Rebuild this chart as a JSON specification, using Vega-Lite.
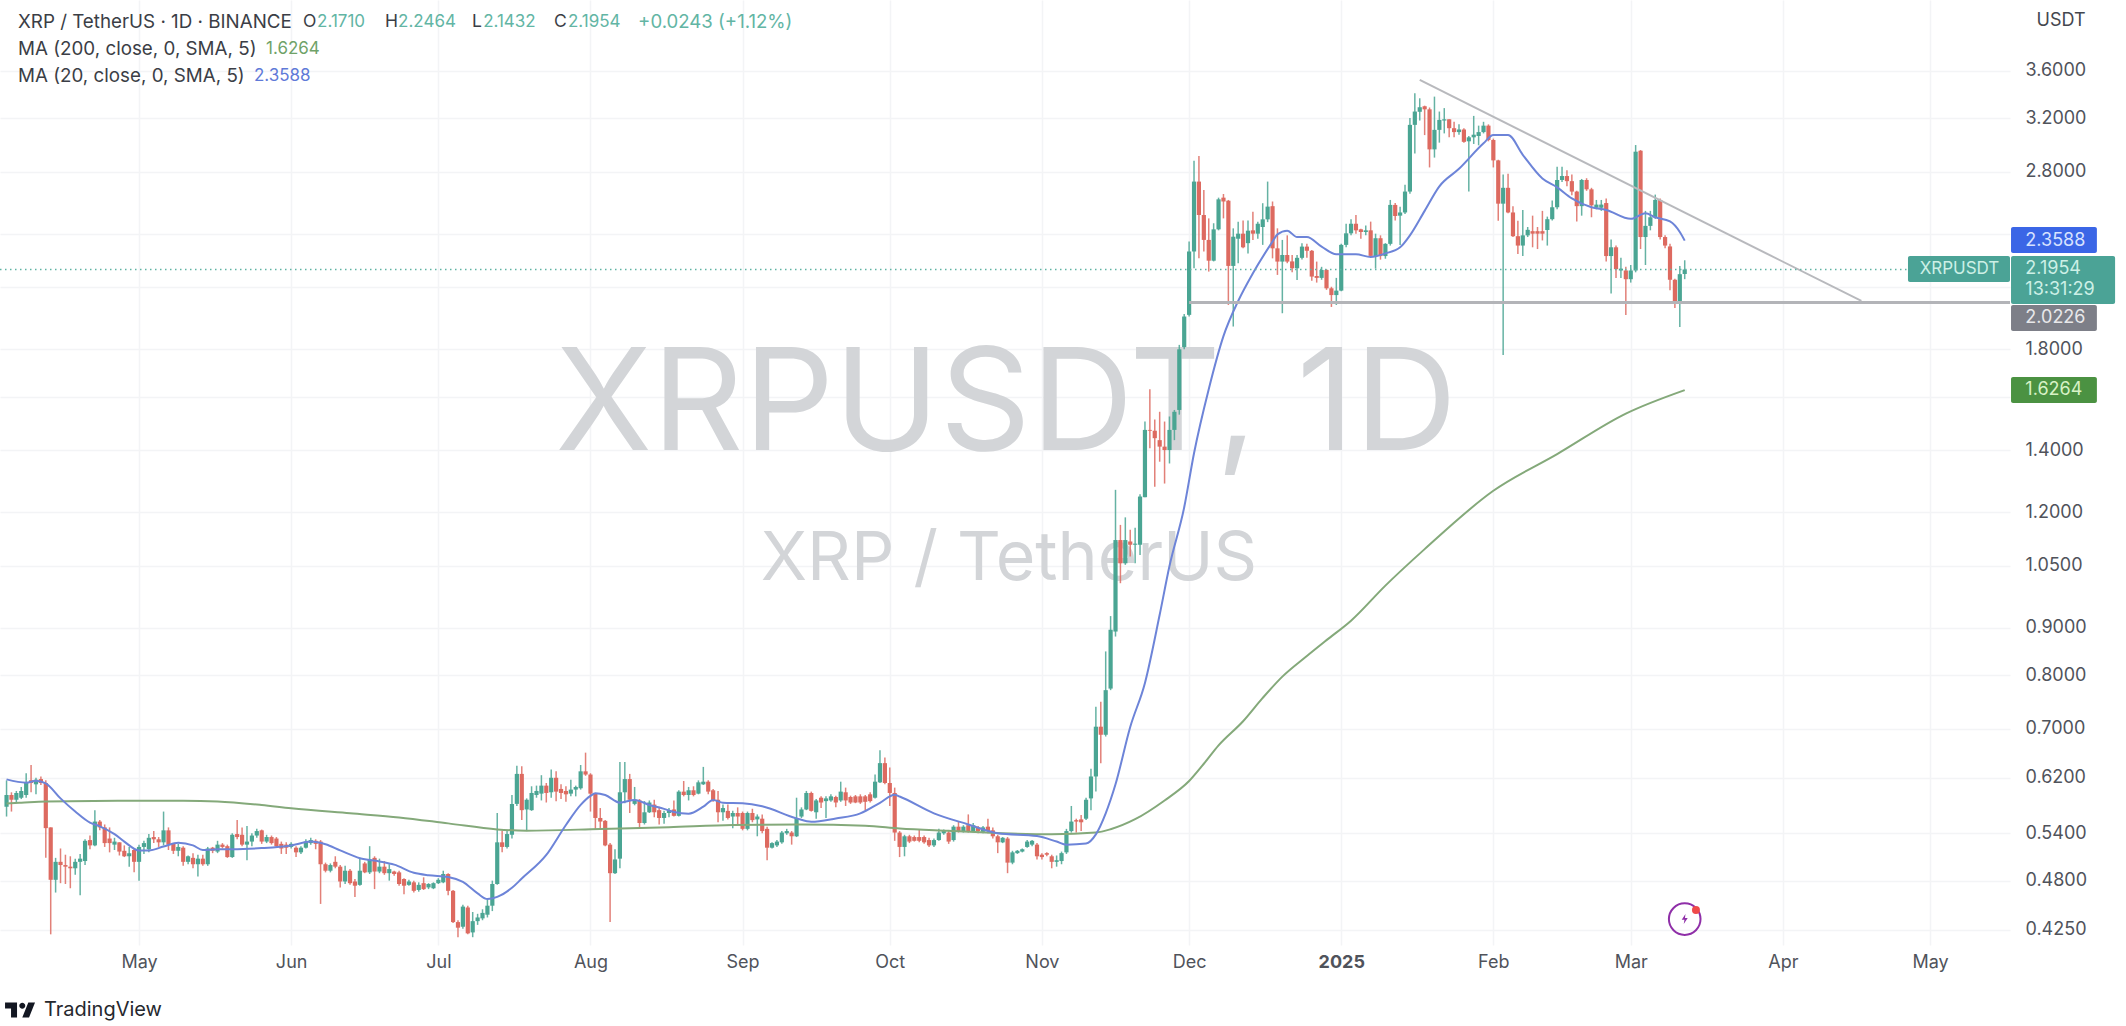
{"$schema":"https://vega.github.io/schema/vega-lite/v6.json","width":2010,"height":945,"autosize":{"type":"none"},"padding":{"left":0,"top":0,"right":116,"bottom":81},"background":"#ffffff","config":{"view":{"stroke":null},"text":{"font":"Inter"}},
"datasets":{"candles":[
{"d":"2024-04-04","o":0.577,"h":0.616,"l":0.563,"c":0.594},{"d":"2024-04-05","o":0.594,"h":0.598,"l":0.570,"c":0.587},{"d":"2024-04-06","o":0.587,"h":0.600,"l":0.583,"c":0.597},{"d":"2024-04-07","o":0.590,"h":0.606,"l":0.588,"c":0.600},{"d":"2024-04-08","o":0.594,"h":0.627,"l":0.590,"c":0.613},{"d":"2024-04-09","o":0.616,"h":0.640,"l":0.598,"c":0.612},{"d":"2024-04-10","o":0.610,"h":0.620,"l":0.595,"c":0.617},{"d":"2024-04-11","o":0.618,"h":0.622,"l":0.609,"c":0.612},{"d":"2024-04-12","o":0.612,"h":0.616,"l":0.508,"c":0.547},{"d":"2024-04-13","o":0.548,"h":0.548,"l":0.420,"c":0.481},{"d":"2024-04-14","o":0.481,"h":0.508,"l":0.466,"c":0.503},{"d":"2024-04-15","o":0.503,"h":0.520,"l":0.477,"c":0.499},{"d":"2024-04-16","o":0.499,"h":0.512,"l":0.476,"c":0.497},{"d":"2024-04-17","o":0.497,"h":0.510,"l":0.471,"c":0.495},{"d":"2024-04-18","o":0.495,"h":0.507,"l":0.487,"c":0.503},{"d":"2024-04-19","o":0.503,"h":0.513,"l":0.463,"c":0.507},{"d":"2024-04-20","o":0.504,"h":0.532,"l":0.499,"c":0.530},{"d":"2024-04-21","o":0.531,"h":0.537,"l":0.519,"c":0.524},{"d":"2024-04-22","o":0.524,"h":0.572,"l":0.523,"c":0.556},{"d":"2024-04-23","o":0.556,"h":0.558,"l":0.544,"c":0.548},{"d":"2024-04-24","o":0.548,"h":0.552,"l":0.522,"c":0.527},{"d":"2024-04-25","o":0.533,"h":0.548,"l":0.515,"c":0.527},{"d":"2024-04-26","o":0.525,"h":0.534,"l":0.518,"c":0.529},{"d":"2024-04-27","o":0.528,"h":0.528,"l":0.511,"c":0.516},{"d":"2024-04-28","o":0.517,"h":0.524,"l":0.509,"c":0.510},{"d":"2024-04-29","o":0.510,"h":0.522,"l":0.497,"c":0.514},{"d":"2024-04-30","o":0.518,"h":0.520,"l":0.490,"c":0.503},
{"d":"2024-05-01","o":0.503,"h":0.525,"l":0.480,"c":0.522},{"d":"2024-05-02","o":0.522,"h":0.530,"l":0.513,"c":0.527},{"d":"2024-05-03","o":0.519,"h":0.539,"l":0.515,"c":0.534},{"d":"2024-05-04","o":0.535,"h":0.543,"l":0.527,"c":0.532},{"d":"2024-05-05","o":0.532,"h":0.535,"l":0.522,"c":0.528},{"d":"2024-05-06","o":0.528,"h":0.570,"l":0.524,"c":0.544},{"d":"2024-05-07","o":0.544,"h":0.548,"l":0.518,"c":0.525},{"d":"2024-05-08","o":0.526,"h":0.527,"l":0.513,"c":0.517},{"d":"2024-05-09","o":0.517,"h":0.526,"l":0.510,"c":0.522},{"d":"2024-05-10","o":0.521,"h":0.523,"l":0.498,"c":0.503},{"d":"2024-05-11","o":0.503,"h":0.511,"l":0.500,"c":0.510},{"d":"2024-05-12","o":0.508,"h":0.514,"l":0.495,"c":0.500},{"d":"2024-05-13","o":0.500,"h":0.512,"l":0.485,"c":0.507},{"d":"2024-05-14","o":0.507,"h":0.512,"l":0.498,"c":0.500},{"d":"2024-05-15","o":0.500,"h":0.522,"l":0.498,"c":0.520},{"d":"2024-05-16","o":0.521,"h":0.522,"l":0.514,"c":0.517},{"d":"2024-05-17","o":0.516,"h":0.530,"l":0.514,"c":0.525},{"d":"2024-05-18","o":0.525,"h":0.527,"l":0.520,"c":0.522},{"d":"2024-05-19","o":0.523,"h":0.525,"l":0.508,"c":0.509},{"d":"2024-05-20","o":0.509,"h":0.540,"l":0.508,"c":0.538},{"d":"2024-05-21","o":0.539,"h":0.558,"l":0.532,"c":0.535},{"d":"2024-05-22","o":0.538,"h":0.548,"l":0.523,"c":0.525},{"d":"2024-05-23","o":0.525,"h":0.550,"l":0.505,"c":0.529},{"d":"2024-05-24","o":0.529,"h":0.540,"l":0.523,"c":0.537},{"d":"2024-05-25","o":0.537,"h":0.546,"l":0.534,"c":0.543},{"d":"2024-05-26","o":0.544,"h":0.545,"l":0.526,"c":0.529},{"d":"2024-05-27","o":0.529,"h":0.538,"l":0.527,"c":0.535},{"d":"2024-05-28","o":0.535,"h":0.537,"l":0.525,"c":0.527},{"d":"2024-05-29","o":0.533,"h":0.535,"l":0.521,"c":0.523},{"d":"2024-05-30","o":0.526,"h":0.529,"l":0.513,"c":0.520},{"d":"2024-05-31","o":0.525,"h":0.528,"l":0.513,"c":0.521},
{"d":"2024-06-01","o":0.522,"h":0.528,"l":0.520,"c":0.526},{"d":"2024-06-02","o":0.521,"h":0.523,"l":0.509,"c":0.515},{"d":"2024-06-03","o":0.515,"h":0.523,"l":0.513,"c":0.521},{"d":"2024-06-04","o":0.521,"h":0.532,"l":0.520,"c":0.529},{"d":"2024-06-05","o":0.527,"h":0.534,"l":0.525,"c":0.531},{"d":"2024-06-06","o":0.530,"h":0.532,"l":0.519,"c":0.526},{"d":"2024-06-07","o":0.529,"h":0.531,"l":0.453,"c":0.500},{"d":"2024-06-08","o":0.500,"h":0.502,"l":0.490,"c":0.492},{"d":"2024-06-09","o":0.492,"h":0.501,"l":0.490,"c":0.499},{"d":"2024-06-10","o":0.503,"h":0.510,"l":0.495,"c":0.497},{"d":"2024-06-11","o":0.497,"h":0.499,"l":0.472,"c":0.479},{"d":"2024-06-12","o":0.479,"h":0.498,"l":0.476,"c":0.492},{"d":"2024-06-13","o":0.492,"h":0.494,"l":0.475,"c":0.477},{"d":"2024-06-14","o":0.479,"h":0.482,"l":0.461,"c":0.474},{"d":"2024-06-15","o":0.475,"h":0.508,"l":0.474,"c":0.492},{"d":"2024-06-16","o":0.501,"h":0.503,"l":0.489,"c":0.490},{"d":"2024-06-17","o":0.490,"h":0.523,"l":0.488,"c":0.506},{"d":"2024-06-18","o":0.508,"h":0.510,"l":0.470,"c":0.491},{"d":"2024-06-19","o":0.491,"h":0.507,"l":0.489,"c":0.497},{"d":"2024-06-20","o":0.497,"h":0.504,"l":0.487,"c":0.489},{"d":"2024-06-21","o":0.489,"h":0.500,"l":0.480,"c":0.494},{"d":"2024-06-22","o":0.491,"h":0.492,"l":0.486,"c":0.488},{"d":"2024-06-23","o":0.490,"h":0.492,"l":0.474,"c":0.476},{"d":"2024-06-24","o":0.482,"h":0.483,"l":0.464,"c":0.474},{"d":"2024-06-25","o":0.475,"h":0.481,"l":0.474,"c":0.479},{"d":"2024-06-26","o":0.478,"h":0.480,"l":0.466,"c":0.468},{"d":"2024-06-27","o":0.469,"h":0.478,"l":0.467,"c":0.475},{"d":"2024-06-28","o":0.477,"h":0.484,"l":0.469,"c":0.470},{"d":"2024-06-29","o":0.472,"h":0.477,"l":0.470,"c":0.476},{"d":"2024-06-30","o":0.471,"h":0.478,"l":0.470,"c":0.477},
{"d":"2024-07-01","o":0.477,"h":0.483,"l":0.476,"c":0.481},{"d":"2024-07-02","o":0.478,"h":0.492,"l":0.477,"c":0.488},{"d":"2024-07-03","o":0.488,"h":0.489,"l":0.463,"c":0.468},{"d":"2024-07-04","o":0.468,"h":0.469,"l":0.432,"c":0.433},{"d":"2024-07-05","o":0.433,"h":0.435,"l":0.417,"c":0.427},{"d":"2024-07-06","o":0.428,"h":0.452,"l":0.426,"c":0.450},{"d":"2024-07-07","o":0.449,"h":0.451,"l":0.420,"c":0.421},{"d":"2024-07-08","o":0.422,"h":0.444,"l":0.417,"c":0.434},{"d":"2024-07-09","o":0.434,"h":0.442,"l":0.430,"c":0.438},{"d":"2024-07-10","o":0.437,"h":0.447,"l":0.435,"c":0.443},{"d":"2024-07-11","o":0.441,"h":0.458,"l":0.438,"c":0.451},{"d":"2024-07-12","o":0.451,"h":0.480,"l":0.445,"c":0.476},{"d":"2024-07-13","o":0.476,"h":0.568,"l":0.475,"c":0.528},{"d":"2024-07-14","o":0.528,"h":0.543,"l":0.515,"c":0.522},{"d":"2024-07-15","o":0.522,"h":0.543,"l":0.520,"c":0.539},{"d":"2024-07-16","o":0.538,"h":0.594,"l":0.533,"c":0.581},{"d":"2024-07-17","o":0.581,"h":0.639,"l":0.578,"c":0.626},{"d":"2024-07-18","o":0.626,"h":0.638,"l":0.558,"c":0.572},{"d":"2024-07-19","o":0.573,"h":0.589,"l":0.543,"c":0.587},{"d":"2024-07-20","o":0.572,"h":0.607,"l":0.571,"c":0.597},{"d":"2024-07-21","o":0.594,"h":0.608,"l":0.590,"c":0.600},{"d":"2024-07-22","o":0.596,"h":0.624,"l":0.586,"c":0.608},{"d":"2024-07-23","o":0.608,"h":0.612,"l":0.583,"c":0.597},{"d":"2024-07-24","o":0.598,"h":0.633,"l":0.590,"c":0.620},{"d":"2024-07-25","o":0.620,"h":0.630,"l":0.585,"c":0.599},{"d":"2024-07-26","o":0.603,"h":0.610,"l":0.588,"c":0.597},{"d":"2024-07-27","o":0.600,"h":0.607,"l":0.584,"c":0.595},{"d":"2024-07-28","o":0.596,"h":0.617,"l":0.592,"c":0.602},{"d":"2024-07-29","o":0.602,"h":0.608,"l":0.592,"c":0.606},{"d":"2024-07-30","o":0.604,"h":0.640,"l":0.602,"c":0.630},{"d":"2024-07-31","o":0.630,"h":0.660,"l":0.623,"c":0.625},
{"d":"2024-08-01","o":0.625,"h":0.627,"l":0.570,"c":0.596},{"d":"2024-08-02","o":0.596,"h":0.597,"l":0.545,"c":0.561},{"d":"2024-08-03","o":0.561,"h":0.575,"l":0.547,"c":0.556},{"d":"2024-08-04","o":0.557,"h":0.558,"l":0.523,"c":0.524},{"d":"2024-08-05","o":0.525,"h":0.527,"l":0.433,"c":0.489},{"d":"2024-08-06","o":0.489,"h":0.519,"l":0.488,"c":0.506},{"d":"2024-08-07","o":0.507,"h":0.645,"l":0.495,"c":0.598},{"d":"2024-08-08","o":0.598,"h":0.645,"l":0.582,"c":0.618},{"d":"2024-08-09","o":0.618,"h":0.626,"l":0.568,"c":0.587},{"d":"2024-08-10","o":0.581,"h":0.606,"l":0.579,"c":0.587},{"d":"2024-08-11","o":0.586,"h":0.588,"l":0.547,"c":0.554},{"d":"2024-08-12","o":0.554,"h":0.585,"l":0.552,"c":0.569},{"d":"2024-08-13","o":0.569,"h":0.586,"l":0.568,"c":0.583},{"d":"2024-08-14","o":0.580,"h":0.587,"l":0.562,"c":0.569},{"d":"2024-08-15","o":0.572,"h":0.577,"l":0.552,"c":0.561},{"d":"2024-08-16","o":0.561,"h":0.571,"l":0.553,"c":0.568},{"d":"2024-08-17","o":0.568,"h":0.575,"l":0.562,"c":0.572},{"d":"2024-08-18","o":0.573,"h":0.586,"l":0.563,"c":0.564},{"d":"2024-08-19","o":0.564,"h":0.601,"l":0.563,"c":0.599},{"d":"2024-08-20","o":0.599,"h":0.615,"l":0.592,"c":0.594},{"d":"2024-08-21","o":0.594,"h":0.606,"l":0.586,"c":0.601},{"d":"2024-08-22","o":0.601,"h":0.607,"l":0.592,"c":0.594},{"d":"2024-08-23","o":0.596,"h":0.616,"l":0.595,"c":0.613},{"d":"2024-08-24","o":0.610,"h":0.637,"l":0.609,"c":0.614},{"d":"2024-08-25","o":0.614,"h":0.616,"l":0.595,"c":0.599},{"d":"2024-08-26","o":0.601,"h":0.603,"l":0.584,"c":0.586},{"d":"2024-08-27","o":0.587,"h":0.600,"l":0.555,"c":0.569},{"d":"2024-08-28","o":0.569,"h":0.580,"l":0.557,"c":0.575},{"d":"2024-08-29","o":0.571,"h":0.580,"l":0.559,"c":0.561},{"d":"2024-08-30","o":0.563,"h":0.571,"l":0.547,"c":0.568},{"d":"2024-08-31","o":0.568,"h":0.576,"l":0.552,"c":0.563},
{"d":"2024-09-01","o":0.568,"h":0.570,"l":0.544,"c":0.546},{"d":"2024-09-02","o":0.546,"h":0.570,"l":0.544,"c":0.568},{"d":"2024-09-03","o":0.568,"h":0.574,"l":0.555,"c":0.558},{"d":"2024-09-04","o":0.559,"h":0.566,"l":0.536,"c":0.563},{"d":"2024-09-05","o":0.560,"h":0.566,"l":0.540,"c":0.543},{"d":"2024-09-06","o":0.546,"h":0.549,"l":0.505,"c":0.521},{"d":"2024-09-07","o":0.521,"h":0.528,"l":0.520,"c":0.527},{"d":"2024-09-08","o":0.524,"h":0.531,"l":0.522,"c":0.529},{"d":"2024-09-09","o":0.528,"h":0.543,"l":0.526,"c":0.541},{"d":"2024-09-10","o":0.540,"h":0.546,"l":0.538,"c":0.543},{"d":"2024-09-11","o":0.541,"h":0.543,"l":0.525,"c":0.536},{"d":"2024-09-12","o":0.536,"h":0.590,"l":0.535,"c":0.561},{"d":"2024-09-13","o":0.563,"h":0.576,"l":0.561,"c":0.573},{"d":"2024-09-14","o":0.573,"h":0.600,"l":0.572,"c":0.597},{"d":"2024-09-15","o":0.597,"h":0.599,"l":0.570,"c":0.571},{"d":"2024-09-16","o":0.569,"h":0.588,"l":0.560,"c":0.586},{"d":"2024-09-17","o":0.590,"h":0.592,"l":0.575,"c":0.583},{"d":"2024-09-18","o":0.585,"h":0.592,"l":0.561,"c":0.589},{"d":"2024-09-19","o":0.586,"h":0.595,"l":0.584,"c":0.592},{"d":"2024-09-20","o":0.591,"h":0.593,"l":0.576,"c":0.583},{"d":"2024-09-21","o":0.586,"h":0.614,"l":0.584,"c":0.599},{"d":"2024-09-22","o":0.598,"h":0.605,"l":0.578,"c":0.586},{"d":"2024-09-23","o":0.591,"h":0.593,"l":0.581,"c":0.583},{"d":"2024-09-24","o":0.592,"h":0.594,"l":0.582,"c":0.583},{"d":"2024-09-25","o":0.592,"h":0.595,"l":0.581,"c":0.583},{"d":"2024-09-26","o":0.592,"h":0.594,"l":0.572,"c":0.584},{"d":"2024-09-27","o":0.595,"h":0.598,"l":0.583,"c":0.585},{"d":"2024-09-28","o":0.590,"h":0.625,"l":0.589,"c":0.614},{"d":"2024-09-29","o":0.613,"h":0.664,"l":0.612,"c":0.643},{"d":"2024-09-30","o":0.643,"h":0.652,"l":0.610,"c":0.612},
{"d":"2024-10-01","o":0.612,"h":0.636,"l":0.578,"c":0.597},{"d":"2024-10-02","o":0.597,"h":0.605,"l":0.530,"c":0.541},{"d":"2024-10-03","o":0.541,"h":0.543,"l":0.509,"c":0.522},{"d":"2024-10-04","o":0.522,"h":0.538,"l":0.510,"c":0.536},{"d":"2024-10-05","o":0.536,"h":0.538,"l":0.527,"c":0.529},{"d":"2024-10-06","o":0.535,"h":0.537,"l":0.529,"c":0.530},{"d":"2024-10-07","o":0.535,"h":0.545,"l":0.528,"c":0.530},{"d":"2024-10-08","o":0.535,"h":0.537,"l":0.526,"c":0.528},{"d":"2024-10-09","o":0.531,"h":0.534,"l":0.522,"c":0.524},{"d":"2024-10-10","o":0.524,"h":0.533,"l":0.522,"c":0.531},{"d":"2024-10-11","o":0.531,"h":0.546,"l":0.530,"c":0.541},{"d":"2024-10-12","o":0.540,"h":0.545,"l":0.538,"c":0.543},{"d":"2024-10-13","o":0.541,"h":0.543,"l":0.526,"c":0.529},{"d":"2024-10-14","o":0.531,"h":0.551,"l":0.529,"c":0.549},{"d":"2024-10-15","o":0.549,"h":0.556,"l":0.541,"c":0.543},{"d":"2024-10-16","o":0.543,"h":0.551,"l":0.541,"c":0.549},{"d":"2024-10-17","o":0.551,"h":0.566,"l":0.541,"c":0.543},{"d":"2024-10-18","o":0.543,"h":0.554,"l":0.541,"c":0.551},{"d":"2024-10-19","o":0.548,"h":0.550,"l":0.540,"c":0.543},{"d":"2024-10-20","o":0.542,"h":0.550,"l":0.540,"c":0.548},{"d":"2024-10-21","o":0.549,"h":0.560,"l":0.540,"c":0.543},{"d":"2024-10-22","o":0.544,"h":0.548,"l":0.533,"c":0.536},{"d":"2024-10-23","o":0.536,"h":0.538,"l":0.514,"c":0.528},{"d":"2024-10-24","o":0.528,"h":0.535,"l":0.527,"c":0.534},{"d":"2024-10-25","o":0.533,"h":0.535,"l":0.489,"c":0.502},{"d":"2024-10-26","o":0.502,"h":0.517,"l":0.500,"c":0.515},{"d":"2024-10-27","o":0.514,"h":0.518,"l":0.513,"c":0.517},{"d":"2024-10-28","o":0.516,"h":0.520,"l":0.515,"c":0.519},{"d":"2024-10-29","o":0.522,"h":0.531,"l":0.521,"c":0.529},{"d":"2024-10-30","o":0.525,"h":0.531,"l":0.523,"c":0.530},{"d":"2024-10-31","o":0.525,"h":0.527,"l":0.506,"c":0.510},
{"d":"2024-11-01","o":0.512,"h":0.514,"l":0.506,"c":0.509},{"d":"2024-11-02","o":0.514,"h":0.515,"l":0.510,"c":0.512},{"d":"2024-11-03","o":0.510,"h":0.512,"l":0.495,"c":0.503},{"d":"2024-11-04","o":0.503,"h":0.511,"l":0.497,"c":0.505},{"d":"2024-11-05","o":0.504,"h":0.516,"l":0.500,"c":0.514},{"d":"2024-11-06","o":0.515,"h":0.546,"l":0.513,"c":0.543},{"d":"2024-11-07","o":0.543,"h":0.578,"l":0.541,"c":0.556},{"d":"2024-11-08","o":0.558,"h":0.560,"l":0.541,"c":0.556},{"d":"2024-11-09","o":0.559,"h":0.565,"l":0.543,"c":0.555},{"d":"2024-11-10","o":0.560,"h":0.590,"l":0.558,"c":0.587},{"d":"2024-11-11","o":0.589,"h":0.634,"l":0.572,"c":0.622},{"d":"2024-11-12","o":0.622,"h":0.740,"l":0.599,"c":0.704},{"d":"2024-11-13","o":0.704,"h":0.749,"l":0.643,"c":0.690},{"d":"2024-11-14","o":0.690,"h":0.849,"l":0.687,"c":0.771},{"d":"2024-11-15","o":0.774,"h":0.927,"l":0.771,"c":0.896},{"d":"2024-11-16","o":0.892,"h":1.269,"l":0.881,"c":1.120},{"d":"2024-11-17","o":1.120,"h":1.163,"l":1.006,"c":1.057},{"d":"2024-11-18","o":1.057,"h":1.185,"l":1.053,"c":1.120},{"d":"2024-11-19","o":1.116,"h":1.149,"l":1.075,"c":1.107},{"d":"2024-11-20","o":1.107,"h":1.155,"l":1.057,"c":1.110},{"d":"2024-11-21","o":1.107,"h":1.255,"l":1.079,"c":1.248},{"d":"2024-11-22","o":1.246,"h":1.504,"l":1.246,"c":1.473},{"d":"2024-11-23","o":1.473,"h":1.630,"l":1.407,"c":1.470},{"d":"2024-11-24","o":1.470,"h":1.512,"l":1.279,"c":1.443},{"d":"2024-11-25","o":1.436,"h":1.541,"l":1.361,"c":1.413},{"d":"2024-11-26","o":1.413,"h":1.504,"l":1.289,"c":1.401},{"d":"2024-11-27","o":1.401,"h":1.523,"l":1.355,"c":1.473},{"d":"2024-11-28","o":1.473,"h":1.548,"l":1.436,"c":1.541},{"d":"2024-11-29","o":1.548,"h":1.820,"l":1.530,"c":1.800},{"d":"2024-11-30","o":1.810,"h":1.965,"l":1.800,"c":1.953},
{"d":"2024-12-01","o":1.961,"h":2.353,"l":1.953,"c":2.296},{"d":"2024-12-02","o":2.296,"h":2.878,"l":2.202,"c":2.732},{"d":"2024-12-03","o":2.732,"h":2.912,"l":2.257,"c":2.514},{"d":"2024-12-04","o":2.514,"h":2.675,"l":2.296,"c":2.363},{"d":"2024-12-05","o":2.363,"h":2.493,"l":2.184,"c":2.244},{"d":"2024-12-06","o":2.244,"h":2.463,"l":2.240,"c":2.426},{"d":"2024-12-07","o":2.426,"h":2.625,"l":2.420,"c":2.614},{"d":"2024-12-08","o":2.625,"h":2.649,"l":2.493,"c":2.600},{"d":"2024-12-09","o":2.605,"h":2.610,"l":2.010,"c":2.215},{"d":"2024-12-10","o":2.215,"h":2.432,"l":1.905,"c":2.382},{"d":"2024-12-11","o":2.370,"h":2.473,"l":2.230,"c":2.400},{"d":"2024-12-12","o":2.400,"h":2.480,"l":2.314,"c":2.320},{"d":"2024-12-13","o":2.344,"h":2.480,"l":2.285,"c":2.418},{"d":"2024-12-14","o":2.420,"h":2.535,"l":2.363,"c":2.400},{"d":"2024-12-15","o":2.400,"h":2.473,"l":2.370,"c":2.460},{"d":"2024-12-16","o":2.440,"h":2.589,"l":2.334,"c":2.487},{"d":"2024-12-17","o":2.487,"h":2.732,"l":2.470,"c":2.567},{"d":"2024-12-18","o":2.570,"h":2.600,"l":2.257,"c":2.314},{"d":"2024-12-19","o":2.314,"h":2.432,"l":2.166,"c":2.239},{"d":"2024-12-20","o":2.239,"h":2.363,"l":1.969,"c":2.276},{"d":"2024-12-21","o":2.276,"h":2.390,"l":2.230,"c":2.239},{"d":"2024-12-22","o":2.240,"h":2.276,"l":2.180,"c":2.202},{"d":"2024-12-23","o":2.202,"h":2.276,"l":2.139,"c":2.260},{"d":"2024-12-24","o":2.260,"h":2.344,"l":2.250,"c":2.324},{"d":"2024-12-25","o":2.324,"h":2.340,"l":2.260,"c":2.300},{"d":"2024-12-26","o":2.300,"h":2.305,"l":2.135,"c":2.157},{"d":"2024-12-27","o":2.160,"h":2.239,"l":2.125,"c":2.150},{"d":"2024-12-28","o":2.150,"h":2.210,"l":2.140,"c":2.193},{"d":"2024-12-29","o":2.193,"h":2.197,"l":2.087,"c":2.095},{"d":"2024-12-30","o":2.095,"h":2.103,"l":2.000,"c":2.060},{"d":"2024-12-31","o":2.060,"h":2.150,"l":2.010,"c":2.083},
{"d":"2025-01-01","o":2.083,"h":2.340,"l":2.080,"c":2.334},{"d":"2025-01-02","o":2.334,"h":2.460,"l":2.320,"c":2.402},{"d":"2025-01-03","o":2.402,"h":2.487,"l":2.390,"c":2.460},{"d":"2025-01-04","o":2.460,"h":2.514,"l":2.400,"c":2.420},{"d":"2025-01-05","o":2.426,"h":2.430,"l":2.370,"c":2.410},{"d":"2025-01-06","o":2.410,"h":2.450,"l":2.390,"c":2.420},{"d":"2025-01-07","o":2.420,"h":2.473,"l":2.265,"c":2.271},{"d":"2025-01-08","o":2.270,"h":2.400,"l":2.200,"c":2.373},{"d":"2025-01-09","o":2.373,"h":2.390,"l":2.250,"c":2.270},{"d":"2025-01-10","o":2.270,"h":2.344,"l":2.255,"c":2.340},{"d":"2025-01-11","o":2.340,"h":2.610,"l":2.330,"c":2.578},{"d":"2025-01-12","o":2.578,"h":2.590,"l":2.480,"c":2.508},{"d":"2025-01-13","o":2.510,"h":2.567,"l":2.334,"c":2.530},{"d":"2025-01-14","o":2.530,"h":2.710,"l":2.520,"c":2.665},{"d":"2025-01-15","o":2.665,"h":3.200,"l":2.650,"c":3.146},{"d":"2025-01-16","o":3.146,"h":3.403,"l":2.930,"c":3.252},{"d":"2025-01-17","o":3.250,"h":3.361,"l":3.180,"c":3.287},{"d":"2025-01-18","o":3.295,"h":3.300,"l":3.067,"c":3.270},{"d":"2025-01-19","o":3.270,"h":3.285,"l":2.830,"c":2.960},{"d":"2025-01-20","o":2.960,"h":3.375,"l":2.900,"c":3.107},{"d":"2025-01-21","o":3.107,"h":3.252,"l":3.010,"c":3.185},{"d":"2025-01-22","o":3.180,"h":3.280,"l":3.080,"c":3.190},{"d":"2025-01-23","o":3.190,"h":3.190,"l":3.050,"c":3.120},{"d":"2025-01-24","o":3.120,"h":3.170,"l":3.050,"c":3.090},{"d":"2025-01-25","o":3.090,"h":3.150,"l":3.070,"c":3.110},{"d":"2025-01-26","o":3.110,"h":3.120,"l":3.010,"c":3.016},{"d":"2025-01-27","o":3.020,"h":3.060,"l":2.665,"c":3.050},{"d":"2025-01-28","o":3.050,"h":3.217,"l":3.000,"c":3.070},{"d":"2025-01-29","o":3.060,"h":3.140,"l":2.990,"c":3.090},{"d":"2025-01-30","o":3.090,"h":3.170,"l":3.080,"c":3.140},{"d":"2025-01-31","o":3.140,"h":3.150,"l":3.020,"c":3.030},
{"d":"2025-02-01","o":3.030,"h":3.040,"l":2.830,"c":2.880},{"d":"2025-02-02","o":2.880,"h":2.885,"l":2.478,"c":2.586},{"d":"2025-02-03","o":2.586,"h":2.780,"l":1.775,"c":2.690},{"d":"2025-02-04","o":2.690,"h":2.785,"l":2.525,"c":2.530},{"d":"2025-02-05","o":2.530,"h":2.570,"l":2.380,"c":2.385},{"d":"2025-02-06","o":2.385,"h":2.478,"l":2.282,"c":2.330},{"d":"2025-02-07","o":2.330,"h":2.545,"l":2.270,"c":2.390},{"d":"2025-02-08","o":2.390,"h":2.440,"l":2.380,"c":2.423},{"d":"2025-02-09","o":2.415,"h":2.510,"l":2.320,"c":2.400},{"d":"2025-02-10","o":2.415,"h":2.440,"l":2.310,"c":2.400},{"d":"2025-02-11","o":2.415,"h":2.540,"l":2.360,"c":2.400},{"d":"2025-02-12","o":2.422,"h":2.504,"l":2.330,"c":2.488},{"d":"2025-02-13","o":2.488,"h":2.606,"l":2.480,"c":2.563},{"d":"2025-02-14","o":2.563,"h":2.835,"l":2.550,"c":2.743},{"d":"2025-02-15","o":2.743,"h":2.835,"l":2.730,"c":2.770},{"d":"2025-02-16","o":2.770,"h":2.810,"l":2.700,"c":2.735},{"d":"2025-02-17","o":2.735,"h":2.780,"l":2.640,"c":2.665},{"d":"2025-02-18","o":2.665,"h":2.670,"l":2.474,"c":2.570},{"d":"2025-02-19","o":2.570,"h":2.750,"l":2.510,"c":2.743},{"d":"2025-02-20","o":2.743,"h":2.755,"l":2.670,"c":2.680},{"d":"2025-02-21","o":2.680,"h":2.690,"l":2.500,"c":2.575},{"d":"2025-02-22","o":2.560,"h":2.610,"l":2.550,"c":2.580},{"d":"2025-02-23","o":2.560,"h":2.610,"l":2.540,"c":2.580},{"d":"2025-02-24","o":2.590,"h":2.620,"l":2.240,"c":2.270},{"d":"2025-02-25","o":2.270,"h":2.365,"l":2.068,"c":2.320},{"d":"2025-02-26","o":2.320,"h":2.330,"l":2.150,"c":2.197},{"d":"2025-02-27","o":2.190,"h":2.260,"l":2.150,"c":2.200},{"d":"2025-02-28","o":2.190,"h":2.210,"l":1.960,"c":2.143},
{"d":"2025-03-01","o":2.143,"h":2.220,"l":2.125,"c":2.190},{"d":"2025-03-02","o":2.190,"h":2.992,"l":2.180,"c":2.943},{"d":"2025-03-03","o":2.950,"h":2.955,"l":2.310,"c":2.380},{"d":"2025-03-04","o":2.380,"h":2.540,"l":2.220,"c":2.447},{"d":"2025-03-05","o":2.447,"h":2.540,"l":2.420,"c":2.500},{"d":"2025-03-06","o":2.500,"h":2.645,"l":2.490,"c":2.610},{"d":"2025-03-07","o":2.610,"h":2.620,"l":2.365,"c":2.380},{"d":"2025-03-08","o":2.380,"h":2.390,"l":2.315,"c":2.330},{"d":"2025-03-09","o":2.325,"h":2.340,"l":2.085,"c":2.140},{"d":"2025-03-10","o":2.140,"h":2.145,"l":1.995,"c":2.020},{"d":"2025-03-11","o":2.020,"h":2.215,"l":1.903,"c":2.170},{"d":"2025-03-12","o":2.171,"h":2.2464,"l":2.1432,"c":2.1954}
],
"ma20":[{"d":"2024-04-04","p":0.6175},{"d":"2024-04-08","p":0.6125},{"d":"2024-04-10","p":0.6155},{"d":"2024-04-12","p":0.6115},{"d":"2024-04-15","p":0.589},{"d":"2024-04-18","p":0.570},{"d":"2024-04-21","p":0.5545},{"d":"2024-04-23","p":0.5495},{"d":"2024-04-26","p":0.539},{"d":"2024-04-28","p":0.529},{"d":"2024-05-01","p":0.5175},{"d":"2024-05-03","p":0.5175},{"d":"2024-05-06","p":0.5225},{"d":"2024-05-09","p":0.5275},{"d":"2024-05-12","p":0.524},{"d":"2024-05-14","p":0.518},{"d":"2024-05-17","p":0.519},{"d":"2024-05-20","p":0.519},{"d":"2024-05-26","p":0.5205},{"d":"2024-06-01","p":0.524},{"d":"2024-06-05","p":0.529},{"d":"2024-06-08","p":0.5255},{"d":"2024-06-11","p":0.5175},{"d":"2024-06-15","p":0.5075},{"d":"2024-06-19","p":0.5035},{"d":"2024-06-22","p":0.4995},{"d":"2024-06-26","p":0.4895},{"d":"2024-06-29","p":0.4865},{"d":"2024-07-03","p":0.4845},{"d":"2024-07-06","p":0.4785},{"d":"2024-07-09","p":0.465},{"d":"2024-07-11","p":0.4585},{"d":"2024-07-13","p":0.461},{"d":"2024-07-16","p":0.4715},{"d":"2024-07-18","p":0.4825},{"d":"2024-07-23","p":0.5117},{"d":"2024-07-27","p":0.5513},{"d":"2024-07-30","p":0.5795},{"d":"2024-08-01","p":0.5926},{"d":"2024-08-02","p":0.5965},{"d":"2024-08-04","p":0.594},{"d":"2024-08-07","p":0.5828},{"d":"2024-08-10","p":0.5868},{"d":"2024-08-13","p":0.5795},{"d":"2024-08-16","p":0.5738},{"d":"2024-08-18","p":0.5695},{"d":"2024-08-21","p":0.567},{"d":"2024-08-24","p":0.577},{"d":"2024-08-26","p":0.5868},{"d":"2024-08-28","p":0.5826},{"d":"2024-09-01","p":0.5818},{"d":"2024-09-05","p":0.5775},{"d":"2024-09-12","p":0.5604},{"d":"2024-09-15","p":0.5557},{"d":"2024-09-20","p":0.5604},{"d":"2024-09-25","p":0.5675},{"d":"2024-09-29","p":0.5826},{"d":"2024-10-02","p":0.5944},{"d":"2024-10-03","p":0.5917},{"d":"2024-10-10","p":0.5675},{"d":"2024-10-17","p":0.552},{"d":"2024-10-23","p":0.54},{"d":"2024-10-31","p":0.5363},{"d":"2024-11-04","p":0.529},{"d":"2024-11-06","p":0.525},{"d":"2024-11-10","p":0.5265},{"d":"2024-11-12","p":0.5386},{"d":"2024-11-14","p":0.5675},{"d":"2024-11-16","p":0.61},{"d":"2024-11-19","p":0.7035},{"d":"2024-11-22","p":0.785},{"d":"2024-11-25","p":0.93},{"d":"2024-11-27","p":1.05},{"d":"2024-11-30","p":1.215},{"d":"2024-12-02","p":1.39},{"d":"2024-12-05","p":1.63},{"d":"2024-12-08","p":1.86},{"d":"2024-12-11","p":2.03},{"d":"2024-12-14","p":2.175},{"d":"2024-12-18","p":2.353},{"d":"2024-12-19","p":2.396},{"d":"2024-12-21","p":2.418},{"d":"2024-12-23","p":2.38},{"d":"2024-12-25","p":2.38},{"d":"2024-12-28","p":2.324},{"d":"2024-12-31","p":2.28},{"d":"2025-01-04","p":2.28},{"d":"2025-01-07","p":2.265},{"d":"2025-01-10","p":2.285},{"d":"2025-01-13","p":2.32},{"d":"2025-01-15","p":2.39},{"d":"2025-01-18","p":2.54},{"d":"2025-01-21","p":2.7},{"d":"2025-01-25","p":2.82},{"d":"2025-01-30","p":3.005},{"d":"2025-02-01","p":3.067},{"d":"2025-02-04","p":3.067},{"d":"2025-02-07","p":2.92},{"d":"2025-02-11","p":2.753},{"d":"2025-02-14","p":2.693},{"d":"2025-02-17","p":2.62},{"d":"2025-02-21","p":2.563},{"d":"2025-02-24","p":2.546},{"d":"2025-03-01","p":2.49},{"d":"2025-03-04","p":2.525},{"d":"2025-03-06","p":2.5},{"d":"2025-03-09","p":2.474},{"d":"2025-03-11","p":2.41},{"d":"2025-03-12","p":2.3588}],
"ma200":[{"d":"2024-04-04","p":0.5817},{"d":"2024-04-07","p":0.5828},{"d":"2024-04-12","p":0.5846},{"d":"2024-05-01","p":0.5856},{"d":"2024-05-10","p":0.5856},{"d":"2024-05-17","p":0.5846},{"d":"2024-05-26","p":0.5794},{"d":"2024-06-01","p":0.5746},{"d":"2024-06-13","p":0.5675},{"d":"2024-06-23","p":0.5618},{"d":"2024-07-03","p":0.5535},{"d":"2024-07-13","p":0.5453},{"d":"2024-07-19","p":0.5436},{"d":"2024-08-03","p":0.5458},{"d":"2024-08-17","p":0.5482},{"d":"2024-08-30","p":0.5513},{"d":"2024-09-13","p":0.5518},{"d":"2024-09-26","p":0.5503},{"d":"2024-10-03","p":0.5466},{"d":"2024-10-13","p":0.5433},{"d":"2024-10-24","p":0.54},{"d":"2024-11-03","p":0.5386},{"d":"2024-11-12","p":0.541},{"d":"2024-11-15","p":0.5455},{"d":"2024-11-20","p":0.5593},{"d":"2024-11-26","p":0.586},{"d":"2024-12-01","p":0.615},{"d":"2024-12-04","p":0.642},{"d":"2024-12-07","p":0.672},{"d":"2024-12-12","p":0.7136},{"d":"2024-12-16","p":0.7563},{"d":"2024-12-20","p":0.7974},{"d":"2024-12-25","p":0.8394},{"d":"2024-12-29","p":0.8731},{"d":"2025-01-03","p":0.9164},{"d":"2025-01-10","p":1.0},{"d":"2025-01-18","p":1.095},{"d":"2025-02-01","p":1.266},{"d":"2025-02-14","p":1.387},{"d":"2025-02-28","p":1.534},{"d":"2025-03-12","p":1.6264}],
"tags":[{"k":"blue","d":"2025-05-17T12:00:00Z","d2":"2025-06-04T00:00:00Z","p":2.44,"p2":2.288},{"k":"teal","d":"2025-05-17T12:00:00Z","d2":"2025-06-07T17:00:00Z","p":2.271,"p2":2.015},{"k":"teal","d":"2025-04-26T12:00:00Z","d2":"2025-05-17T07:00:00Z","p":2.271,"p2":2.128},{"k":"gray","d":"2025-05-17T12:00:00Z","d2":"2025-06-04T00:00:00Z","p":2.01,"p2":1.884},{"k":"green","d":"2025-05-17T12:00:00Z","d2":"2025-06-04T00:00:00Z","p":1.68,"p2":1.575}]
},
"encoding":{
"x":{"field":"d","type":"temporal","title":null,"scale":{"type":"utc","padding":0,"domain":["2024-04-02T16:00:00Z","2025-05-17T07:00:00Z"]},"axis":{"values":["2024-05-01T00:00:00Z","2024-06-01T00:00:00Z","2024-07-01T00:00:00Z","2024-08-01T00:00:00Z","2024-09-01T00:00:00Z","2024-10-01T00:00:00Z","2024-11-01T00:00:00Z","2024-12-01T00:00:00Z","2025-01-01T00:00:00Z","2025-02-01T00:00:00Z","2025-03-01T00:00:00Z","2025-04-01T00:00:00Z","2025-05-01T00:00:00Z"],"labelExpr":"utcmonth(datum.value)==0?'2025':utcFormat(datum.value,'%b')","labelFont":"Inter","labelFontSize":18,"labelColor":"#50535b","labelFontWeight":{"condition":{"test":"utcmonth(datum.value)==0","value":"bold"},"value":"normal"},"labelPadding":8,"labelOverlap":false,"labelFlush":false,"ticks":false,"domain":false,"grid":true,"gridColor":"#f3f4f6","gridWidth":1.5,"title":null}},
"y":{"field":"p","type":"quantitative","title":null,"scale":{"type":"log","domain":[0.409,4.292],"nice":false},"axis":{"orient":"right","values":[3.6,3.2,2.8,2.4,2.1,1.8,1.6,1.4,1.2,1.05,0.9,0.8,0.7,0.62,0.54,0.48,0.425],"labelExpr":"indexof([2.4,2.1,1.6],datum.value)>=0?'':format(datum.value,'.4f')","labelFont":"Inter","labelFontSize":18,"labelColor":"#50535b","labelPadding":15,"labelAlign":"left","labelOverlap":false,"labelFlush":false,"ticks":false,"domain":false,"grid":true,"gridColor":"#f3f4f6","gridWidth":1.5,"title":null}}
},
"layer":[
{"data":{"values":[{"t":"XRPUSDT, 1D","d":"2024-10-24T17:00:00Z","p":1.56}]},"mark":{"type":"text","fontSize":142,"font":"Inter","color":"#d3d5d8","align":"center","baseline":"middle"},"encoding":{"text":{"field":"t"}}},
{"data":{"values":[{"t":"XRP / TetherUS","d":"2024-10-25T07:00:00Z","p":1.066}]},"mark":{"type":"text","fontSize":68,"font":"Inter","color":"#d3d5d8","align":"center","baseline":"middle"},"encoding":{"text":{"field":"t"}}},
{"data":{"name":"candles"},"mark":{"type":"rule","strokeWidth":1.5,"opacity":0.85},"encoding":{"y":{"field":"l","type":"quantitative","title":null,"scale":{"type":"log","domain":[0.409,4.292],"nice":false}},"y2":{"field":"h"},"color":{"condition":{"test":"datum.c>=datum.o","value":"#4aa593"},"value":"#dd6a60"}}},
{"data":{"name":"candles"},"mark":{"type":"bar","size":4.2},"encoding":{"y":{"field":"o","type":"quantitative","title":null,"scale":{"type":"log","domain":[0.409,4.292],"nice":false}},"y2":{"field":"c"},"color":{"condition":{"test":"datum.c>=datum.o","value":"#4aa593"},"value":"#dd6a60"}}},
{"data":{"name":"ma200"},"mark":{"type":"line","color":"#84a97a","strokeWidth":2,"interpolate":"monotone"}},
{"data":{"name":"ma20"},"mark":{"type":"line","color":"#6d84d8","strokeWidth":2,"interpolate":"monotone"}},
{"data":{"values":[{"d":"2024-12-01","d2":"2025-05-17T07:00:00Z","p":2.0226}]},"mark":{"type":"rule","color":"#b3b4b8","strokeWidth":3},"encoding":{"x2":{"field":"d2"}}},
{"data":{"values":[{"d":"2025-01-17","p":3.518},{"d":"2025-04-17","p":2.03}]},"mark":{"type":"line","color":"#b8b9bd","strokeWidth":2}},
{"data":{"values":[{"d":"2024-04-02T16:00:00Z","d2":"2025-05-17T07:00:00Z","p":2.1954}]},"mark":{"type":"rule","color":"#5fb3a3","strokeWidth":1.3,"strokeDash":[1.5,3.5]},"encoding":{"x2":{"field":"d2"}}},
{"data":{"name":"tags"},"mark":{"type":"rect","cornerRadius":2},"encoding":{"x2":{"field":"d2"},"y2":{"field":"p2"},"color":{"field":"k","type":"nominal","legend":null,"scale":{"domain":["blue","teal","gray","green"],"range":["#3b66e6","#4ba396","#7d7f88","#4b9242"]}}}},
{"data":{"values":[{"t":"2.3588","d":"2025-05-20T10:00:00Z","p":2.3588}]},"mark":{"type":"text","fontSize":18,"align":"left","baseline":"middle","color":"#d7e2ff"},"encoding":{"text":{"field":"t"}}},
{"data":{"values":[{"t":"2.1954","d":"2025-05-20T10:00:00Z","p":2.1954},{"t":"13:31:29","d":"2025-05-20T10:00:00Z","p":2.086}]},"mark":{"type":"text","fontSize":18,"align":"left","baseline":"middle","color":"#cdf0e6"},"encoding":{"text":{"field":"t"}}},
{"data":{"values":[{"t":"XRPUSDT","d":"2025-05-07T00:00:00Z","p":2.1954}]},"mark":{"type":"text","fontSize":17,"align":"center","baseline":"middle","color":"#cdf0e6"},"encoding":{"text":{"field":"t"}}},
{"data":{"values":[{"t":"2.0226","d":"2025-05-20T10:00:00Z","p":1.948}]},"mark":{"type":"text","fontSize":18,"align":"left","baseline":"middle","color":"#e8e8ea"},"encoding":{"text":{"field":"t"}}},
{"data":{"values":[{"t":"1.6264","d":"2025-05-20T10:00:00Z","p":1.6264}]},"mark":{"type":"text","fontSize":18,"align":"left","baseline":"middle","color":"#d8f2c6"},"encoding":{"text":{"field":"t"}}},
{"data":{"values":[{"t":"USDT","d":"2025-05-27T17:00:00Z","p":4.07}]},"mark":{"type":"text","fontSize":18,"align":"center","baseline":"middle","color":"#44474f"},"encoding":{"text":{"field":"t"}}},
{"data":{"values":[{"t":"XRP / TetherUS · 1D · BINANCE","d":"2024-04-06T08:00:00Z","p":4.067},{"t":"MA (200, close, 0, SMA, 5)","d":"2024-04-06T08:00:00Z","p":3.8},{"t":"MA (20, close, 0, SMA, 5)","d":"2024-04-06T08:00:00Z","p":3.556}]},"mark":{"type":"text","fontSize":18.8,"align":"left","baseline":"middle","color":"#3b3e46"},"encoding":{"text":{"field":"t"}}},
{"data":{"values":[{"t":"O","d":"2024-06-03T10:00:00Z","p":4.067},{"t":"H","d":"2024-06-20T03:00:00Z","p":4.067},{"t":"L","d":"2024-07-07T21:00:00Z","p":4.067},{"t":"C","d":"2024-07-24T14:00:00Z","p":4.067}]},"mark":{"type":"text","fontSize":17.5,"align":"left","baseline":"middle","color":"#3b3e46"},"encoding":{"text":{"field":"t"}}},
{"data":{"values":[{"t":"2.1710","d":"2024-06-06T07:00:00Z","p":4.067},{"t":"2.2464","d":"2024-06-22T19:00:00Z","p":4.067},{"t":"2.1432","d":"2024-07-10T03:00:00Z","p":4.067},{"t":"2.1954","d":"2024-07-27T10:00:00Z","p":4.067}]},"mark":{"type":"text","fontSize":17,"align":"left","baseline":"middle","color":"#62b5a4"},"encoding":{"text":{"field":"t"}}},
{"data":{"values":[{"t":"+0.0243 (+1.12%)","d":"2024-08-10T17:00:00Z","p":4.067}]},"mark":{"type":"text","fontSize":18.6,"align":"left","baseline":"middle","color":"#62b5a4"},"encoding":{"text":{"field":"t"}}},
{"data":{"values":[{"t":"1.6264","d":"2024-05-26T21:00:00Z","p":3.8}]},"mark":{"type":"text","fontSize":17,"align":"left","baseline":"middle","color":"#6fa268"},"encoding":{"text":{"field":"t"}}},
{"data":{"values":[{"t":"2.3588","d":"2024-05-24T10:00:00Z","p":3.556}]},"mark":{"type":"text","fontSize":17,"align":"left","baseline":"middle","color":"#5f7ad8"},"encoding":{"text":{"field":"t"}}},
{"data":{"values":[{"t":"TradingView","d":"2024-04-11T15:00:00Z","p":0.348}]},"mark":{"type":"text","fontSize":20,"align":"left","baseline":"middle","color":"#26282e"},"encoding":{"text":{"field":"t"}}},
{"data":{"values":[{"d":"2024-04-06T18:00:00Z","p":0.348}]},"mark":{"type":"point","shape":"M-1,-0.5H-0.2V0.5H-0.6V-0.1H-1Z M-0.05,-0.28A0.2,0.2,0,1,1,0.35,-0.28A0.2,0.2,0,1,1,-0.05,-0.28Z M0.55,-0.5H1L0.6,0.5H0.15Z","size":900,"filled":true,"color":"#131722","opacity":1}},
{"data":{"values":[{"d":"2025-03-12","p":0.4362}]},"mark":{"type":"point","shape":"circle","size":1000,"filled":false,"color":"#8f2fa8","strokeWidth":2,"opacity":1}},
{"data":{"values":[{"d":"2025-03-12","p":0.4362}]},"mark":{"type":"point","shape":"M0.15,-1L-0.6,0.15H-0.05L-0.2,1L0.6,-0.2H0.05Z","size":100,"filled":true,"color":"#8f2fa8","opacity":1}},
{"data":{"values":[{"d":"2025-03-14T07:00:00Z","p":0.4462}]},"mark":{"type":"point","shape":"circle","size":64,"filled":true,"color":"#ef4a4a","opacity":1}}
]}
